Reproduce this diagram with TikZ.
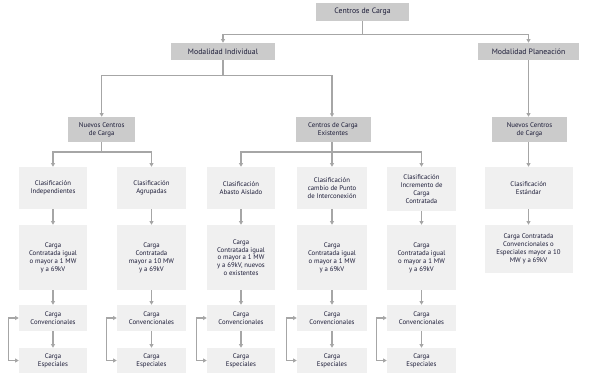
\documentclass[tikz,border=0pt]{standalone}
\usepackage{fontspec}
\setmainfont{PT Sans}
\usetikzlibrary{arrows.meta}
\definecolor{darkg}{HTML}{CBCBCB}
\definecolor{lightg}{HTML}{F0F0F0}
\definecolor{linec}{HTML}{A6A6A6}
\definecolor{txt}{HTML}{1C1C38}
\tikzset{
  box/.style={rectangle, inner sep=0pt, align=center, text=txt},
  darkbox/.style={box, fill=darkg, font=\fontsize{7.8}{9}\selectfont},
  midbox/.style={box, fill=darkg, font=\fontsize{6.9}{8}\selectfont},
  lightbox/.style={box, fill=lightg, font=\fontsize{6.8}{7.9}\selectfont},
  conn/.style={draw=linec, line width=1.2bp},
  arr/.style={conn, -{Triangle[length=3.6bp,width=3.8bp]}},
  arrboth/.style={conn, {Triangle[length=3.6bp,width=3.8bp]}-{Triangle[length=3.6bp,width=3.8bp]}}
}
\begin{document}
\begin{tikzpicture}[x=1bp,y=-1bp]
\useasboundingbox (0,0) rectangle (590,378);
% level 0-1
\node[darkbox, minimum width=93bp, minimum height=18bp] (top) at (362.5,12) {Centros de Carga};
\node[darkbox, minimum width=104bp, minimum height=17bp] (mi) at (223,51.5) {Modalidad Individual};
\node[darkbox, minimum width=101bp, minimum height=17bp] (mp) at (528.5,51.5) {Modalidad Planeación};
% level 2
\node[midbox, minimum width=67bp, minimum height=25bp] (n1) at (101.7,129.5) {Nuevos Centros\\de Carga};
\node[midbox, minimum width=75bp, minimum height=25bp] (ex) at (333,129.5) {Centros de Carga\\Existentes};
\node[midbox, minimum width=75bp, minimum height=25bp] (n2) at (529.5,129.5) {Nuevos Centros\\de Carga};
% level 3
\node[lightbox, minimum width=68bp, minimum height=42bp] (c1) at (53,188) {Clasificación\\Independientes};
\node[lightbox, minimum width=69bp, minimum height=42bp] (c2) at (151.5,188) {Clasificación\\Agrupadas};
\node[lightbox, minimum width=68bp, minimum height=42bp] (c3) at (241,188) {Clasificación\\Abasto Aislado};
\node[lightbox, minimum width=70bp, minimum height=42bp] (c4) at (332,188) {Clasificación\\cambio de Punto\\de Interconexión};
\node[lightbox, minimum width=69bp, minimum height=44bp] (c5) at (421.5,189) {Clasificación\\Incremento de\\Carga\\Contratada};
\node[lightbox, minimum width=88bp, minimum height=42bp] (c6) at (528.5,188) {Clasificación\\Estándar};
% level 4
\node[lightbox, minimum width=68bp, minimum height=65bp] (d1) at (53,257.5) {Carga\\Contratada igual\\o mayor a 1 MW\\y a 69kV};
\node[lightbox, minimum width=69bp, minimum height=65bp] (d2) at (151.5,257.5) {Carga\\Contratada\\mayor a 10 MW\\y a 69kV};
\node[lightbox, minimum width=68bp, minimum height=65bp] (d3) at (241,257.5) {Carga\\Contratada igual\\o mayor a 1 MW\\y a 69kV, nuevos\\o existentes};
\node[lightbox, minimum width=70bp, minimum height=65bp] (d4) at (332,257.5) {Carga\\Contratada igual\\o mayor a 1 MW\\y a 69kV};
\node[lightbox, minimum width=69bp, minimum height=65bp] (d5) at (421.5,257.5) {Carga\\Contratada igual\\o mayor a 1 MW\\y a 69kV};
\node[lightbox, minimum width=88bp, minimum height=48bp] (d6) at (528.5,249) {Carga Contratada\\Convencionales o\\Especiales mayor a 10\\MW y a 69kV};
% level 5-6
\foreach \i/\x/\w in {1/53/68,2/151.5/69,3/241/68,4/332/70,5/421.5/69}{
  \node[lightbox, minimum width=\w bp, minimum height=26bp] (e\i) at (\x,318) {Carga\\Convencionales};
  \node[lightbox, minimum width=\w bp, minimum height=25bp] (f\i) at (\x,360.5) {Carga\\Especiales};
}
% connectors
\coordinate (j0) at (362.5,34.5);
\draw[conn] (top.south) -- (j0);
\draw[arr] (j0) -| (mi.north);
\draw[arr] (j0) -| (mp.north);
\coordinate (j1) at (223,75.5);
\draw[conn] (mi.south) -- (j1);
\draw[arr] (j1) -| (n1.north);
\coordinate (exin) at (332,117);
\draw[arr] (j1) -| (exin);
\draw[arr] (mp.south) -- (n2.north -| mp.south);
\coordinate (j2) at (101.7,152);
\draw[conn] (n1.south) -- (j2);
\draw[arr] (j2) -| (c1.north);
\draw[arr] (j2) -| (c2.north);
\coordinate (j3) at (332,152);
\draw[arr] (ex.south -| c4.north) -- (c4.north);
\draw[arr] (j3) -| (c3.north);
\draw[arr] (j3) -| (c5.north);
\draw[arr] (n2.south -| c6.north) -- (c6.north);
\foreach \i in {1,...,6}{
  \draw[arr] (c\i.south) -- (d\i.north);
}
\foreach \i in {1,...,5}{
  \draw[arr] (d\i.south) -- (e\i.north);
  \draw[arr] (e\i.south) -- (f\i.north);
  \coordinate (k\i) at ([xshift=-10.5bp]e\i.west |- 0,339);
  \draw[arrboth] (e\i.west) -| (k\i) |- (f\i.west);
}
\end{tikzpicture}
\end{document}
